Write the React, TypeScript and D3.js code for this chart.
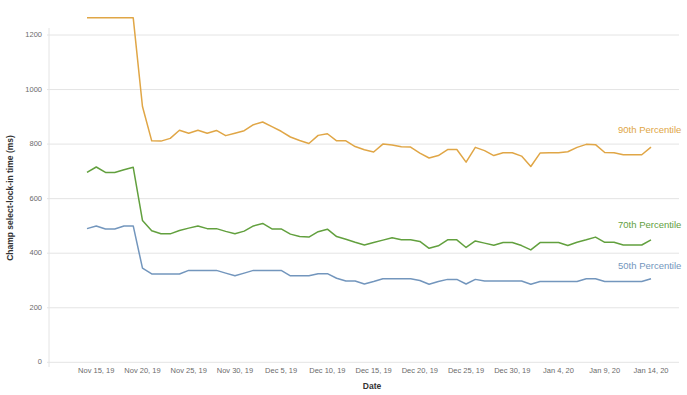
import React from "react";
import * as d3 from "d3";

const startDate = "2019-11-14";
const p90 = [1263, 1263, 1263, 1263, 1263, 1263, 938, 812, 811, 821, 851, 840, 851, 840, 850, 831, 840, 849, 871, 881, 864, 847, 826, 813, 802, 832, 838, 812, 812, 791, 779, 771, 800, 797, 790, 789, 767, 749, 758, 780, 780, 734, 788, 776, 758, 768, 768, 756, 718, 767, 768, 768, 772, 788, 799, 798, 769, 768, 761, 761, 761, 789];
const p70 = [696, 716, 696, 696, 706, 715, 520, 482, 471, 471, 483, 492, 500, 490, 490, 480, 471, 481, 500, 509, 489, 489, 470, 461, 459, 479, 488, 461, 451, 440, 430, 439, 448, 457, 449, 449, 443, 418, 427, 449, 449, 421, 445, 437, 429, 439, 439, 428, 412, 439, 439, 439, 428, 440, 449, 459, 440, 440, 430, 430, 430, 449];
const p50 = [490, 500, 489, 489, 500, 500, 345, 324, 324, 324, 324, 337, 337, 337, 337, 327, 317, 327, 337, 337, 337, 337, 317, 317, 317, 325, 325, 308, 298, 298, 287, 296, 306, 306, 306, 306, 300, 286, 296, 304, 304, 287, 304, 298, 298, 298, 298, 298, 286, 296, 296, 296, 296, 296, 306, 306, 296, 296, 296, 296, 296, 306];
const seriesNames = ["90th Percentile", "70th Percentile", "50th Percentile"];
const seriesColors = ["#e0a646", "#62a03e", "#7396bd"];
const yTicks = [0, 200, 400, 600, 800, 1000, 1200];
const xTickDates = ["2019-11-15", "2019-11-20", "2019-11-25", "2019-11-30", "2019-12-05", "2019-12-10", "2019-12-15", "2019-12-20", "2019-12-25", "2019-12-30", "2020-01-04", "2020-01-09", "2020-01-14"];
const xTickLabels = ["Nov 15, 19", "Nov 20, 19", "Nov 25, 19", "Nov 30, 19", "Dec 5, 19", "Dec 10, 19", "Dec 15, 19", "Dec 20, 19", "Dec 25, 19", "Dec 30, 19", "Jan 4, 20", "Jan 9, 20", "Jan 14, 20"];

export default function App() {
  const W = 687, H = 395;
  const start = new Date(startDate + "T00:00:00Z");
  const dates = p90.map((_, i) => d3.utcDay.offset(start, i));
  const x = d3.scaleUtc().domain([dates[0], dates[dates.length - 1]]).range([87, 651]);
  const y = d3.scaleLinear().domain([0, 1200]).range([362.3, 35]);
  const line = d3.line<number>().x((_, i) => x(dates[i])).y((v) => y(v));
  const all = [p90, p70, p50];
  const labelY = [y(850), y(500), y(350)];
  const font = "'Liberation Sans', Arial, sans-serif";
  return (
    <svg width={W} height={H} style={{ position: "absolute", left: 0, top: 0, background: "#fff" }} fontFamily={font}>
      <line x1={49} x2={49} y1={28} y2={367} stroke="#e4e4e4" strokeWidth={1} />
      {yTicks.map((t) => (
        <g key={t}>
          <line x1={47} x2={679} y1={y(t)} y2={y(t)} stroke="#e4e4e4" strokeWidth={1} />
          <text x={42} y={y(t)} textAnchor="end" dominantBaseline="middle" fontSize={7.5} fill="#6b6b6b">{t}</text>
        </g>
      ))}
      {xTickDates.map((d, i) => (
        <text key={d} x={x(new Date(d + "T00:00:00Z"))} y={371} textAnchor="middle" dominantBaseline="middle" fontSize={7.5} fill="#6b6b6b">{xTickLabels[i]}</text>
      ))}
      {all.map((s, i) => (
        <path key={i} d={line(s) || ""} fill="none" stroke={seriesColors[i]} strokeWidth={1.5} strokeLinejoin="round" />
      ))}
      {seriesNames.map((n, i) => (
        <text key={n} x={618} y={labelY[i]} dominantBaseline="middle" fontSize={9.5} fill={seriesColors[i]}>{n}</text>
      ))}
      <text x={372} y={387} textAnchor="middle" dominantBaseline="middle" fontSize={8.5} fontWeight="bold" fill="#333">Date</text>
      <text transform={`translate(11,198) rotate(-90)`} textAnchor="middle" dominantBaseline="middle" fontSize={8.5} fontWeight="bold" fill="#333">Champ select-lock-in time (ms)</text>
    </svg>
  );
}
